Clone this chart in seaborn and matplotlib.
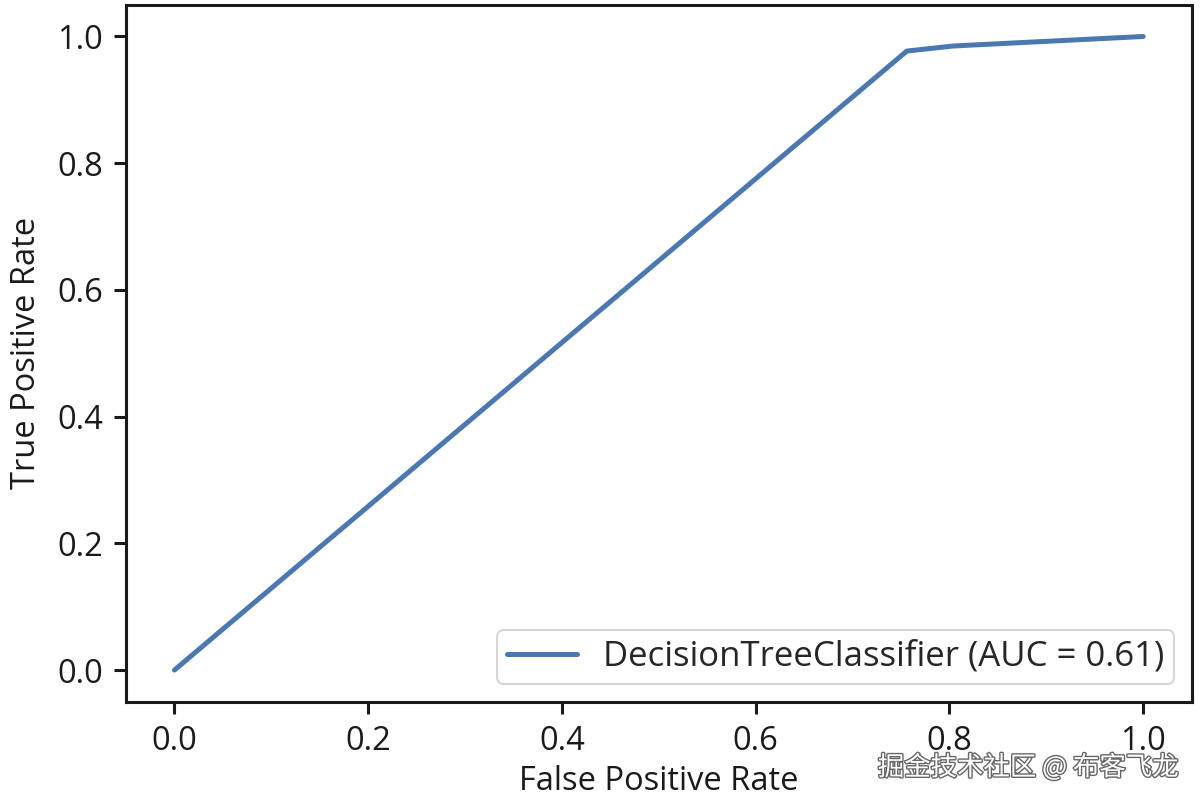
import matplotlib
matplotlib.use("Agg")
import matplotlib.pyplot as plt
import matplotlib.patheffects as pe
import seaborn as sns

# ROC curve points
fpr = [0.0, 0.756, 0.804, 1.0]
tpr = [0.0, 0.977, 0.985, 1.0]
model_name = "DecisionTreeClassifier"
auc_value = 0.61
x_label = "False Positive Rate"
y_label = "True Positive Rate"
watermark = "掘金技术社区 @ 布客飞龙"

sns.set_style("ticks")
plt.rcParams['font.family'] = ['Open Sans', 'DejaVu Sans']
plt.rcParams['axes.linewidth'] = 2.2
plt.rcParams['xtick.major.size'] = 8.5
plt.rcParams['ytick.major.size'] = 8.5
plt.rcParams['xtick.major.width'] = 2.2
plt.rcParams['ytick.major.width'] = 2.2

fig = plt.figure(figsize=(12, 8.02), dpi=100)
ax = fig.add_axes([0.105, 0.125, 0.888, 0.869])

sns.lineplot(x=fpr, y=tpr, ax=ax, sort=False, estimator=None, color='#4C78B2',
             linewidth=3.6, label=f'{model_name} (AUC = {auc_value:.2f})')

ax.set_xlim(-0.05, 1.05)
ax.set_ylim(-0.05, 1.05)
ax.set_xticks([0, 0.2, 0.4, 0.6, 0.8, 1.0])
ax.set_yticks([0, 0.2, 0.4, 0.6, 0.8, 1.0])
ax.tick_params(labelsize=23.5, colors='#1a1a1a', pad=8)
ax.set_xlabel(x_label, fontsize=23.5, color='#1a1a1a', labelpad=5)
ax.set_ylabel(y_label, fontsize=23.5, color='#1a1a1a', labelpad=10)
for s in ax.spines.values():
    s.set_color('#1a1a1a')

leg = ax.legend(loc='lower right', fontsize=25, frameon=True, handlelength=2.0,
                handletextpad=0.75, borderpad=0.3)
leg.get_frame().set_edgecolor('#cccccc')
leg.get_frame().set_linewidth(1.5)

fig.text(0.982, 0.043, watermark, ha='right', va='center', fontsize=19,
         family=['Noto Sans CJK SC', 'DejaVu Sans'], color='white',
         path_effects=[pe.withStroke(linewidth=2, foreground='#666666')])

fig.savefig('out.png', dpi=100)
